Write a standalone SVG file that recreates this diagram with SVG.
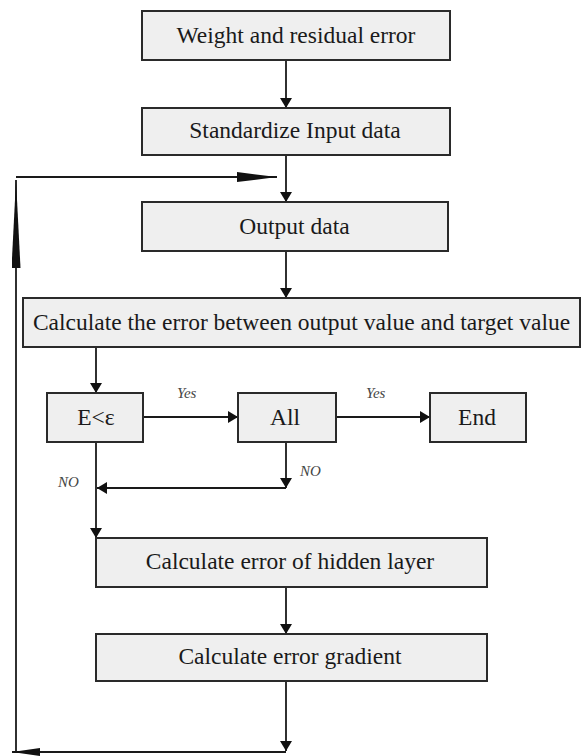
<svg xmlns="http://www.w3.org/2000/svg" width="585" height="756" viewBox="0 0 585 756">
  <style>
    .box { fill: #efefef; stroke: #2a2a2a; stroke-width: 2; }
    .lbl { font-family: "Liberation Serif", "Times New Roman", serif; font-size: 23.5px; fill: #1a1a1a; text-anchor: middle; }
    .note { font-family: "Liberation Serif", "Times New Roman", serif; font-style: italic; font-size: 15px; fill: #444; }
    .wire { fill: none; stroke: #1a1a1a; stroke-width: 1.8; }
  </style>
  <defs>
    <marker id="head" viewBox="0 0 10 12" refX="10" refY="6" markerWidth="10" markerHeight="12" markerUnits="userSpaceOnUse" orient="auto">
      <path d="M0,0 L10,6 L0,12 z" fill="#111"/>
    </marker>
    <marker id="headLong" viewBox="0 0 40 10" refX="40" refY="5" markerWidth="40" markerHeight="10" markerUnits="userSpaceOnUse" orient="auto">
      <path d="M0,0 L40,5 L0,10 z" fill="#111"/>
    </marker>
    <marker id="headUp" viewBox="0 0 88 9" refX="88" refY="4.5" markerWidth="88" markerHeight="9" markerUnits="userSpaceOnUse" orient="auto">
      <path d="M0,0 L88,4.5 L0,9 z" fill="#111"/>
    </marker>
    <marker id="headLeft" viewBox="0 0 28 8" refX="28" refY="4" markerWidth="28" markerHeight="8" markerUnits="userSpaceOnUse" orient="auto">
      <path d="M0,0 L28,4 L0,8 z" fill="#111"/>
    </marker>
  </defs>

  <g id="connectors">
    <line class="wire" x1="286" y1="60" x2="286" y2="108" marker-end="url(#head)"/>
    <line class="wire" x1="286" y1="155" x2="286" y2="202" marker-end="url(#head)"/>
    <line class="wire" x1="16" y1="177" x2="277" y2="177" marker-end="url(#headLong)"/>
    <line class="wire" x1="286" y1="251" x2="286" y2="298" marker-end="url(#head)"/>
    <line class="wire" x1="96" y1="347" x2="96" y2="393" marker-end="url(#head)"/>
    <line class="wire" x1="143" y1="417" x2="238" y2="417" marker-end="url(#head)"/>
    <line class="wire" x1="336" y1="417" x2="430" y2="417" marker-end="url(#head)"/>
    <line class="wire" x1="286" y1="442" x2="286" y2="488" marker-end="url(#head)"/>
    <line class="wire" x1="286" y1="488" x2="97" y2="488" marker-end="url(#head)"/>
    <line class="wire" x1="96" y1="442" x2="96" y2="538" marker-end="url(#head)"/>
    <line class="wire" x1="286" y1="587" x2="286" y2="634" marker-end="url(#head)"/>
    <line class="wire" x1="286" y1="681" x2="286" y2="751" marker-end="url(#head)"/>
    <line class="wire" x1="286" y1="752" x2="12" y2="752" marker-end="url(#headLeft)"/>
    <line class="wire" x1="16" y1="752" x2="16" y2="180" marker-end="url(#headUp)"/>
    <text class="note" x="177" y="398">Yes</text>
    <text class="note" x="366" y="398">Yes</text>
    <text class="note" x="300" y="476">NO</text>
    <text class="note" x="58" y="487">NO</text>
  </g>

  <g id="weight">
    <rect class="box" x="142" y="11" width="308" height="49"/>
    <text class="lbl" x="296" y="43">Weight and residual error</text>
  </g>
  <g id="standardize">
    <rect class="box" x="142" y="108" width="308" height="47"/>
    <text class="lbl" x="295" y="138">Standardize Input data</text>
  </g>
  <g id="output">
    <rect class="box" x="142" y="202" width="306" height="49"/>
    <text class="lbl" x="294.5" y="234">Output data</text>
  </g>
  <g id="calc-error">
    <rect class="box" x="23" y="298" width="557" height="49"/>
    <text class="lbl" x="301.5" y="330">Calculate the error between output value and target value</text>
  </g>
  <g id="check-e">
    <rect class="box" x="47" y="393" width="96" height="49"/>
    <text class="lbl" x="96" y="425">E&lt;ε</text>
  </g>
  <g id="all">
    <rect class="box" x="238" y="393" width="98" height="49"/>
    <text class="lbl" x="285" y="425">All</text>
  </g>
  <g id="end">
    <rect class="box" x="430" y="393" width="96" height="49"/>
    <text class="lbl" x="477" y="425">End</text>
  </g>
  <g id="hidden">
    <rect class="box" x="96" y="538" width="391" height="49"/>
    <text class="lbl" x="290" y="569">Calculate error of hidden layer</text>
  </g>
  <g id="gradient">
    <rect class="box" x="96" y="634" width="391" height="47"/>
    <text class="lbl" x="290" y="664">Calculate error gradient</text>
  </g>
</svg>
